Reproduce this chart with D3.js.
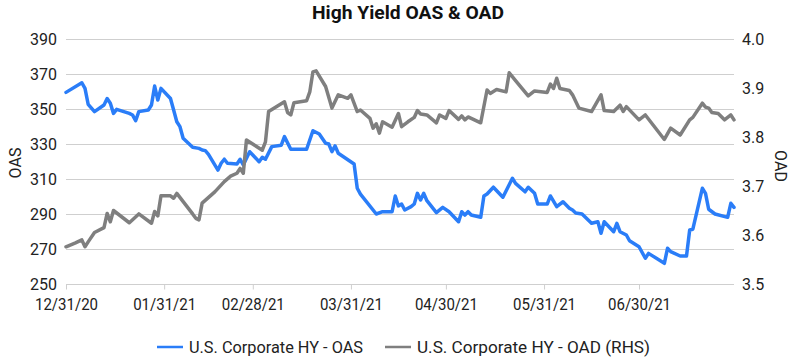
<!DOCTYPE html>
<html><head><meta charset="utf-8">
<script src="https://cdn.jsdelivr.net/npm/d3@7"></script>
<style>body{margin:0;background:#fff} text{font-family:Roboto, sans-serif}</style>
</head><body><svg id="c" width="792" height="360"></svg>
<script>
// ---- data ----
const oasDates = ["2020-12-31","2021-01-05","2021-01-06","2021-01-07","2021-01-09","2021-01-12","2021-01-13","2021-01-14","2021-01-15","2021-01-16","2021-01-20","2021-01-21","2021-01-22","2021-01-23","2021-01-26","2021-01-27","2021-01-28","2021-01-29","2021-01-30","2021-02-02","2021-02-03","2021-02-04","2021-02-05","2021-02-06","2021-02-09","2021-02-11","2021-02-12","2021-02-13","2021-02-14","2021-02-17","2021-02-18","2021-02-19","2021-02-20","2021-02-23","2021-02-24","2021-02-25","2021-02-27","2021-02-28","2021-03-02","2021-03-03","2021-03-04","2021-03-06","2021-03-09","2021-03-10","2021-03-12","2021-03-17","2021-03-19","2021-03-21","2021-03-23","2021-03-24","2021-03-25","2021-03-26","2021-03-27","2021-04-01","2021-04-02","2021-04-03","2021-04-08","2021-04-10","2021-04-13","2021-04-14","2021-04-15","2021-04-16","2021-04-17","2021-04-19","2021-04-20","2021-04-21","2021-04-22","2021-04-23","2021-04-24","2021-04-27","2021-04-29","2021-05-01","2021-05-04","2021-05-05","2021-05-06","2021-05-07","2021-05-08","2021-05-11","2021-05-12","2021-05-13","2021-05-15","2021-05-18","2021-05-21","2021-05-22","2021-05-25","2021-05-26","2021-05-28","2021-05-29","2021-06-01","2021-06-02","2021-06-04","2021-06-06","2021-06-08","2021-06-09","2021-06-10","2021-06-12","2021-06-15","2021-06-17","2021-06-18","2021-06-19","2021-06-22","2021-06-23","2021-06-24","2021-06-26","2021-06-27","2021-06-30","2021-07-02","2021-07-03","2021-07-08","2021-07-09","2021-07-10","2021-07-13","2021-07-15","2021-07-16","2021-07-17","2021-07-20","2021-07-21","2021-07-22","2021-07-24","2021-07-28","2021-07-29","2021-07-30"];
const oasValues = [359.5,365,361.8,352.7,348.5,352.3,356,353.3,347.5,349.8,347.5,346.6,343.3,348.5,349.4,352.3,363.1,355.1,361.8,356,349.4,342.7,339.9,333.3,328.1,327.5,326.6,326.2,324.1,315.1,319,321.3,319,318.6,321.3,318,325.6,323.7,319.9,322.4,321.3,328.5,329.3,334.2,327,327,337.6,335.7,330.4,330,325.6,328.9,324.7,318.6,304.7,301.4,290,291.3,291.3,300.3,294.6,295.7,292.3,294.2,295.7,301.8,298,301.8,297.6,290.8,293.8,291.3,285.6,291.3,289.4,291.3,289.4,288.1,300.3,301.4,305.3,299.6,310.4,307.5,302.7,305.3,301.8,295.7,295.7,300.3,294.2,297,293.3,292.3,290.6,290,284.7,285.6,279,285.6,279.9,284.7,279.9,278,274.7,271.3,264.7,267.5,261.8,270.4,268.5,266,266,280.9,281.3,304.7,301.8,292.7,290,288.1,296.1,293.8];
const oadDates = ["2020-12-31","2021-01-03","2021-01-05","2021-01-06","2021-01-07","2021-01-09","2021-01-12","2021-01-13","2021-01-14","2021-01-15","2021-01-20","2021-01-23","2021-01-27","2021-01-28","2021-01-29","2021-01-30","2021-02-02","2021-02-03","2021-02-04","2021-02-09","2021-02-10","2021-02-11","2021-02-12","2021-02-16","2021-02-19","2021-02-21","2021-02-23","2021-02-24","2021-02-25","2021-02-26","2021-03-03","2021-03-04","2021-03-05","2021-03-10","2021-03-11","2021-03-12","2021-03-13","2021-03-17","2021-03-18","2021-03-19","2021-03-20","2021-03-23","2021-03-25","2021-03-27","2021-03-30","2021-03-31","2021-04-02","2021-04-03","2021-04-06","2021-04-07","2021-04-08","2021-04-09","2021-04-10","2021-04-13","2021-04-15","2021-04-16","2021-04-18","2021-04-20","2021-04-21","2021-04-22","2021-04-24","2021-04-27","2021-04-28","2021-04-30","2021-05-01","2021-05-04","2021-05-05","2021-05-06","2021-05-07","2021-05-11","2021-05-13","2021-05-14","2021-05-16","2021-05-19","2021-05-20","2021-05-22","2021-05-26","2021-05-28","2021-06-01","2021-06-02","2021-06-03","2021-06-04","2021-06-05","2021-06-08","2021-06-09","2021-06-11","2021-06-15","2021-06-18","2021-06-19","2021-06-22","2021-06-24","2021-06-25","2021-06-26","2021-06-30","2021-07-02","2021-07-08","2021-07-10","2021-07-13","2021-07-16","2021-07-17","2021-07-20","2021-07-21","2021-07-22","2021-07-23","2021-07-25","2021-07-27","2021-07-29","2021-07-30"];
const oadValues = [3.576,3.584,3.590,3.576,3.586,3.605,3.615,3.644,3.627,3.650,3.625,3.643,3.624,3.648,3.639,3.680,3.680,3.675,3.685,3.643,3.634,3.631,3.665,3.688,3.709,3.720,3.726,3.736,3.726,3.794,3.773,3.790,3.852,3.872,3.850,3.845,3.870,3.874,3.892,3.933,3.935,3.903,3.859,3.886,3.879,3.886,3.852,3.855,3.838,3.818,3.827,3.808,3.831,3.820,3.848,3.821,3.831,3.840,3.854,3.847,3.845,3.829,3.845,3.838,3.854,3.836,3.843,3.835,3.841,3.829,3.896,3.889,3.897,3.892,3.931,3.915,3.884,3.894,3.891,3.908,3.899,3.920,3.899,3.895,3.886,3.859,3.852,3.886,3.854,3.852,3.865,3.852,3.862,3.835,3.845,3.795,3.818,3.804,3.835,3.840,3.869,3.861,3.859,3.850,3.848,3.835,3.845,3.835];
const xTickDates = ["2020-12-31","2021-01-31","2021-02-28","2021-03-31","2021-04-30","2021-05-31","2021-06-30"];
const xTickLabels = ["12/31/20","01/31/21","02/28/21","03/31/21","04/30/21","05/31/21","06/30/21"];
const oasTicks = [250,270,290,310,330,350,370,390];
const oadTicks = [3.5,3.6,3.7,3.8,3.9,4.0];
const titleText = "High Yield OAS & OAD";
const seriesNames = ["U.S. Corporate HY - OAS","U.S. Corporate HY - OAD (RHS)"];

// ---- chart ----
const parse = d3.timeParse("%Y-%m-%d");
const L = 66, R = 734, T = 39, B = 284;
const svg = d3.select("#c");
const x = d3.scaleTime().domain([parse("2020-12-31"), parse("2021-07-30")]).range([L, R]);
const yL = d3.scaleLinear().domain([250, 390]).range([B, T]);
const yR = d3.scaleLinear().domain([3.5, 4.0]).range([B, T]);
const blue = "#2a7df8", gray = "#7f7f7f";

// gridlines
svg.append("g").selectAll("line").data(oasTicks).join("line")
  .attr("x1", L).attr("x2", R)
  .attr("y1", d => Math.round(yL(d)) + 0.5).attr("y2", d => Math.round(yL(d)) + 0.5)
  .attr("stroke", "#cfcfcf").attr("stroke-width", 1);

// left axis
const gl = svg.append("g").attr("transform", `translate(${L},0)`)
  .call(d3.axisLeft(yL).tickValues(oasTicks).tickSize(0).tickPadding(9).tickFormat(d3.format("d")));
gl.select(".domain").remove();
gl.selectAll("text").attr("font-size", 16).attr("fill", "#222").attr("font-family", "Roboto, sans-serif");

// right axis
const gr = svg.append("g").attr("transform", `translate(${R},0)`)
  .call(d3.axisRight(yR).tickValues(oadTicks).tickSize(0).tickPadding(8).tickFormat(d3.format(".1f")));
gr.select(".domain").remove();
gr.selectAll("text").attr("font-size", 16).attr("fill", "#222").attr("font-family", "Roboto, sans-serif");

// bottom axis
const tickDates = xTickDates.map(parse);
const gx = svg.append("g").attr("transform", `translate(0,${B + 0.5})`)
  .call(d3.axisBottom(x).tickValues(tickDates).tickSize(5).tickPadding(9)
    .tickFormat((d, i) => xTickLabels[i]));
gx.select(".domain").attr("stroke", "#cfcfcf").attr("d", `M${L},0H${R}`);
gx.selectAll(".tick line").attr("stroke", "#cfcfcf");
gx.selectAll("text").attr("font-size", 16).attr("fill", "#222").attr("font-family", "Roboto, sans-serif")
  .attr("textLength", 63).attr("lengthAdjust", "spacingAndGlyphs");

// axis titles
svg.append("text").attr("transform", "translate(21,163) rotate(-90)")
  .attr("text-anchor", "middle").attr("font-size", 16).attr("fill", "#222").text("OAS");
svg.append("text").attr("transform", "translate(775,166) rotate(90)")
  .attr("text-anchor", "middle").attr("font-size", 16).attr("fill", "#222").text("OAD");

// title
svg.append("text").attr("x", 408).attr("y", 19).attr("text-anchor", "middle")
  .attr("font-size", 19).attr("font-weight", "bold").attr("fill", "#111")
  .attr("textLength", 192).attr("lengthAdjust", "spacingAndGlyphs").text(titleText);

// lines
const oas = oasDates.map((d, i) => ({date: parse(d), v: oasValues[i]}));
const oad = oadDates.map((d, i) => ({date: parse(d), v: oadValues[i]}));
svg.append("path").datum(oas)
  .attr("d", d3.line().x(d => x(d.date)).y(d => yL(d.v)))
  .attr("fill", "none").attr("stroke", blue).attr("stroke-width", 3.5).attr("stroke-linejoin", "round").attr("stroke-linecap", "round");
svg.append("path").datum(oad)
  .attr("d", d3.line().x(d => x(d.date)).y(d => yR(d.v)))
  .attr("fill", "none").attr("stroke", gray).attr("stroke-width", 3.5).attr("stroke-linejoin", "round").attr("stroke-linecap", "round");

// legend
const leg = [{c: blue, x: 157, w: 174, name: seriesNames[0]}, {c: gray, x: 385, w: 233, name: seriesNames[1]}];
leg.forEach(l => {
  svg.append("line").attr("x1", l.x).attr("x2", l.x + 26).attr("y1", 347).attr("y2", 347)
    .attr("stroke", l.c).attr("stroke-width", 2.5);
  svg.append("text").attr("x", l.x + 32).attr("y", 353).attr("font-size", 16).attr("fill", "#222")
    .attr("textLength", l.w).attr("lengthAdjust", "spacingAndGlyphs").text(l.name);
});
</script></body></html>
